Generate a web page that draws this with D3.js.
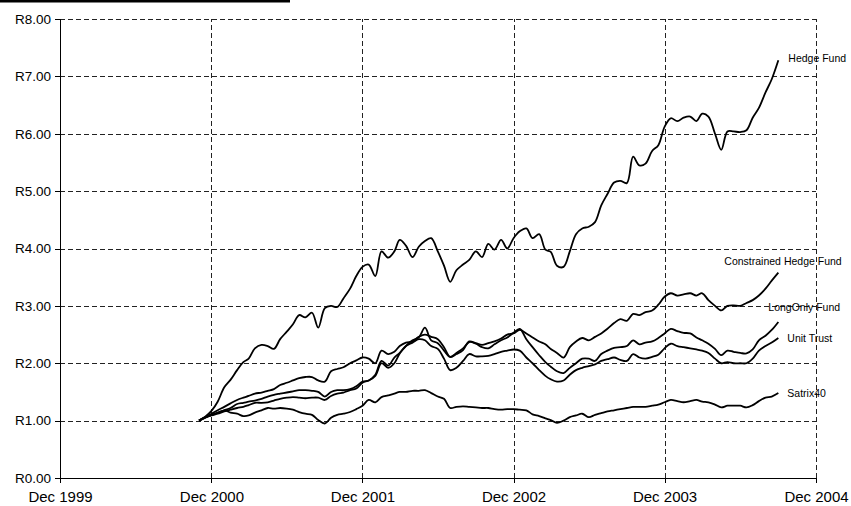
<!DOCTYPE html>
<meta charset="UTF-8">
<style>
body { margin: 0; background: #fff; }
svg { display: block; font-family: "Liberation Sans", Arial, sans-serif; }
.grid line { stroke: #222; stroke-width: 1; stroke-dasharray: 5,3; shape-rendering: crispEdges; }
.series { fill: none; stroke: #000; stroke-width: 1.8; stroke-linejoin: round; }
.axis path, .axis line { stroke: #000; shape-rendering: crispEdges; }
</style>
<body>
<script src="https://d3js.org/d3.v7.min.js"></script>
<script>

// series names, in drawing order
var names = ["Hedge Fund", "Constrained Hedge Fund", "LongOnly Fund", "Unit Trust", "Satrix40"];

// values, one every half month from 1 Nov 2000
var hedgeFund = [1.00,1.07,1.17,1.33,1.58,1.71,1.88,2.02,2.08,2.26,2.32,2.30,2.25,2.42,2.55,2.68,2.84,2.80,2.88,2.62,
  2.96,3.00,2.98,3.13,3.30,3.52,3.68,3.72,3.52,3.95,3.84,3.95,4.15,4.05,3.85,4.03,4.13,4.18,3.95,3.70,
  3.42,3.62,3.72,3.80,3.95,3.85,4.08,3.98,4.15,4.00,4.18,4.30,4.35,4.18,4.25,3.98,3.94,3.70,3.68,3.95,
  4.25,4.35,4.38,4.46,4.75,4.95,5.15,5.18,5.14,5.60,5.45,5.48,5.70,5.80,6.12,6.27,6.22,6.28,6.30,6.22,
  6.35,6.30,6.00,5.72,6.04,6.04,6.03,6.06,6.28,6.45,6.72,6.95,7.28];
var constrained = [1.00,1.06,1.12,1.18,1.24,1.30,1.36,1.40,1.43,1.47,1.49,1.52,1.55,1.62,1.66,1.70,1.74,1.76,1.76,1.70,
  1.68,1.86,1.90,1.93,2.00,2.05,2.10,2.08,2.00,2.22,2.16,2.20,2.30,2.36,2.38,2.46,2.50,2.46,2.42,2.28,
  2.11,2.16,2.23,2.38,2.35,2.32,2.35,2.38,2.43,2.50,2.52,2.58,2.52,2.45,2.38,2.33,2.25,2.18,2.10,2.28,
  2.38,2.44,2.40,2.46,2.52,2.60,2.70,2.77,2.74,2.86,2.84,2.89,2.92,3.02,3.16,3.22,3.18,3.20,3.22,3.18,
  3.22,3.10,3.00,2.92,3.00,3.01,3.00,3.05,3.10,3.18,3.30,3.44,3.58];
var longOnly = [1.00,1.05,1.10,1.14,1.18,1.22,1.29,1.31,1.33,1.35,1.38,1.42,1.45,1.47,1.49,1.51,1.53,1.53,1.52,1.50,
  1.42,1.50,1.53,1.53,1.55,1.60,1.68,1.70,1.80,2.04,1.96,2.10,2.18,2.30,2.40,2.45,2.62,2.40,2.35,2.22,
  2.11,2.18,2.26,2.37,2.34,2.28,2.26,2.33,2.40,2.45,2.53,2.60,2.42,2.28,2.14,2.02,1.94,1.86,1.83,1.92,
  2.00,2.08,2.08,2.04,2.16,2.22,2.27,2.28,2.30,2.40,2.33,2.36,2.38,2.44,2.52,2.60,2.56,2.53,2.52,2.45,
  2.40,2.34,2.25,2.14,2.22,2.20,2.18,2.17,2.24,2.40,2.48,2.58,2.72];
var unitTrust = [1.00,1.05,1.09,1.12,1.16,1.19,1.22,1.24,1.27,1.31,1.31,1.32,1.35,1.38,1.40,1.41,1.40,1.39,1.40,1.40,
  1.36,1.43,1.47,1.49,1.53,1.56,1.66,1.70,1.78,2.00,1.92,2.00,2.17,2.30,2.36,2.42,2.40,2.30,2.25,2.08,
  1.88,1.92,2.04,2.16,2.12,2.12,2.13,2.16,2.20,2.22,2.24,2.22,2.10,2.00,1.88,1.78,1.72,1.68,1.70,1.80,
  1.88,1.92,1.95,1.98,2.04,2.07,2.10,2.06,2.04,2.16,2.10,2.08,2.11,2.15,2.26,2.34,2.30,2.28,2.26,2.24,
  2.22,2.18,2.08,2.00,2.02,2.00,2.00,2.00,2.08,2.22,2.30,2.36,2.44];
var satrix40 = [1.00,1.06,1.10,1.13,1.18,1.14,1.12,1.08,1.09,1.14,1.18,1.22,1.21,1.22,1.21,1.19,1.15,1.12,1.10,1.01,
  0.95,1.05,1.10,1.12,1.15,1.20,1.26,1.36,1.32,1.41,1.44,1.47,1.50,1.50,1.52,1.52,1.53,1.48,1.42,1.38,
  1.22,1.24,1.25,1.24,1.23,1.22,1.22,1.20,1.19,1.20,1.20,1.19,1.18,1.11,1.08,1.04,1.01,0.96,1.00,1.06,
  1.09,1.12,1.06,1.10,1.13,1.16,1.18,1.20,1.22,1.24,1.24,1.24,1.26,1.28,1.32,1.36,1.34,1.32,1.34,1.36,
  1.33,1.32,1.28,1.23,1.26,1.26,1.26,1.23,1.27,1.34,1.40,1.42,1.48];

var seriesValues = [hedgeFund, constrained, longOnly, unitTrust, satrix40];

// axis ticks
var yTicks = [0, 1, 2, 3, 4, 5, 6, 7, 8];
var xTicks = ["1999-12-01", "2000-12-01", "2001-12-01", "2002-12-01", "2003-12-01", "2004-12-01"];

// dates: 1st and 16th of every month starting Nov 2000
var dates = hedgeFund.map(function(v, i) {
  return new Date(2000, 10 + Math.floor(i / 2), i % 2 ? 16 : 1);
});

var parse = d3.timeParse("%Y-%m-%d");
var width = 851, height = 506;
var margin = {top: 19, right: 35, bottom: 28, left: 60};

var svg = d3.select("body").append("svg")
    .attr("width", width)
    .attr("height", height);

// black rule across the top left
svg.append("rect")
    .attr("x", 0).attr("y", 0)
    .attr("width", 290).attr("height", 2.5)
    .attr("fill", "#000");

var x = d3.scaleTime()
    .domain([parse(xTicks[0]), parse(xTicks[xTicks.length - 1])])
    .range([margin.left, width - margin.right]);

var y = d3.scaleLinear()
    .domain([0, 8])
    .range([height - margin.bottom, margin.top]);

// gridlines
var grid = svg.append("g").attr("class", "grid");
grid.selectAll("line.h")
    .data(yTicks.slice(1))
  .enter().append("line")
    .attr("class", "h")
    .attr("x1", x.range()[0]).attr("x2", x.range()[1])
    .attr("y1", function(d) { return Math.round(y(d)) + 0.5; })
    .attr("y2", function(d) { return Math.round(y(d)) + 0.5; });
grid.selectAll("line.v")
    .data(xTicks.slice(1))
  .enter().append("line")
    .attr("class", "v")
    .attr("y1", y.range()[0]).attr("y2", y.range()[1])
    .attr("x1", function(d) { return Math.round(x(parse(d))) + 0.5; })
    .attr("x2", function(d) { return Math.round(x(parse(d))) + 0.5; });

// axes
var yAxis = svg.append("g")
    .attr("class", "axis")
    .attr("transform", "translate(" + margin.left + ",0)")
    .call(d3.axisLeft(y).tickValues(yTicks).tickSizeOuter(0).tickSize(5).tickPadding(4)
      .tickFormat(function(d) { return "R" + d3.format(".2f")(d); }));
yAxis.selectAll("text").style("font-size", "13.5px").attr("fill", "#000");

var xAxis = svg.append("g")
    .attr("class", "axis")
    .attr("transform", "translate(0," + (height - margin.bottom) + ")")
    .call(d3.axisBottom(x).tickValues(xTicks.map(parse)).tickSizeOuter(0).tickSize(5).tickPadding(8)
      .tickFormat(d3.timeFormat("%b %Y")));
xAxis.selectAll("text").style("font-size", "15px").attr("fill", "#000");
xAxis.select(".domain").attr("d", "M" + x.range()[0] + ",0.5H" + x.range()[1]);

// lines
var line = d3.line()
    .curve(d3.curveCatmullRom.alpha(0.5))
    .x(function(d, i) { return x(dates[i]); })
    .y(function(d) { return y(d); });

svg.selectAll("path.series")
    .data(seriesValues)
  .enter().append("path")
    .attr("class", "series")
    .attr("d", line);

// end labels, offset from the last point
var labelOffsets = [[10, 2], [-54, -7.5], [-10, -11], [9, 3.5], [9, 3.7]];
svg.selectAll("text.label")
    .data(names)
  .enter().append("text")
    .attr("class", "label")
    .attr("x", function(d, i) { return x(dates[dates.length - 1]) + labelOffsets[i][0]; })
    .attr("y", function(d, i) { return y(seriesValues[i][seriesValues[i].length - 1]) + labelOffsets[i][1]; })
    .style("font-size", "10.5px")
    .attr("fill", "#000")
    .text(function(d) { return d; });

</script>
</body>
